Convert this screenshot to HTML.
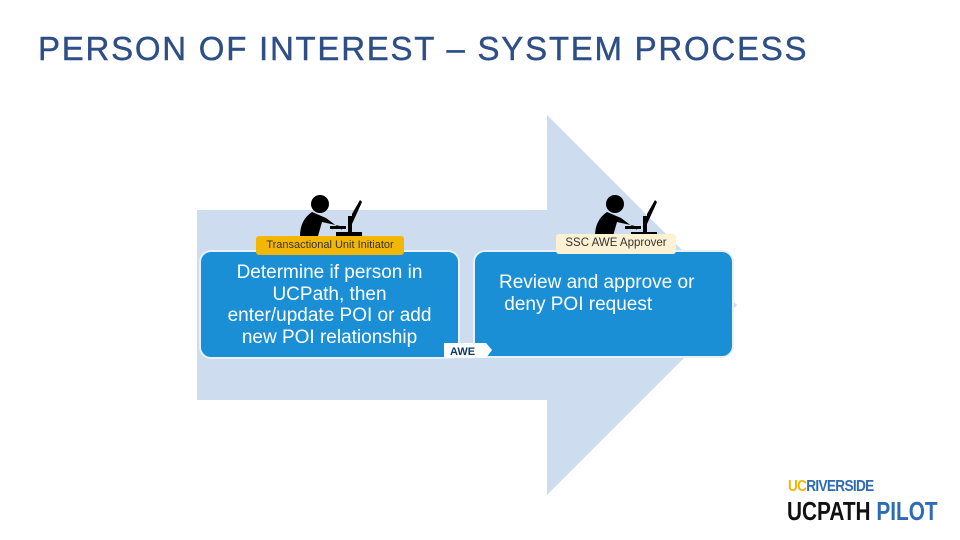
<!DOCTYPE html>
<html><head><style>
body{margin:0;width:960px;height:540px;background:#fff;position:relative;overflow:hidden;font-family:"Liberation Sans",sans-serif}
.t{position:absolute;left:38px;top:30px;font-size:33px;color:#2e4e86;letter-spacing:1.75px;white-space:nowrap;-webkit-text-stroke:0.4px #2e4e86}
.box{position:absolute;background:#1a8fd6;border:2px solid #e8f0f8;border-radius:12px;color:#fff;font-size:19px;line-height:21.5px;box-sizing:border-box}
.lab{position:absolute;font-size:11.5px;border-radius:3px;box-sizing:border-box;padding-top:3px;text-align:center;white-space:nowrap}
</style></head><body>
<div class="t">PERSON OF INTEREST – SYSTEM PROCESS</div>
<svg width="960" height="540" style="position:absolute;left:0;top:0">
<polygon points="197,210 547,210 547,115 737,305 547,495 547,400 197,400" fill="#cddcee"/>
<g id="p1" fill="#000">
<circle cx="320" cy="204" r="9"/>
<path d="M312,212 Q300,220 300,236 L318,236 L322,222 L340,226 L342,230 L326,218 Z"/>
<path d="M352,214 L360,200 L362,202 L352,224 Z" />
<rect x="348" y="216" width="4" height="18"/>
<rect x="336" y="232" width="26" height="4"/>
<rect x="330" y="226" width="16" height="3"/>
</g>
<use href="#p1" x="295" y="0"/>
</svg>
<div class="box" style="left:199px;top:250px;width:261px;height:109px;text-align:center;padding:10px 16px 0">Determine if person in UCPath, then enter/update POI or add new POI relationship</div>
<div class="box" style="left:473px;top:250px;width:261px;height:108px;padding:20px 0 0 24px">Review and approve or<br>&nbsp;deny POI request</div>
<svg width="60" height="20" style="position:absolute;left:440px;top:341px">
<polygon points="4,2 46,2 52,9 46,17 4,17" fill="#fff"/>
<text x="10" y="14" font-size="11" font-weight="bold" fill="#0b3a6a" font-family="Liberation Sans">AWE</text>
</svg>
<div class="lab" style="left:256px;top:236px;width:148px;height:19px;background:#f2b705;color:#333;font-size:11px">Transactional Unit Initiator</div>
<div class="lab" style="left:556px;top:234px;width:120px;height:20px;background:#fcf1d2;color:#333">SSC AWE Approver</div>
<div style="position:absolute;left:788px;top:478px;font-size:16px;font-weight:bold;color:#2d6cb5;letter-spacing:-0.8px;white-space:nowrap;transform:scaleX(0.85);transform-origin:left"><span style="color:#f2b705">UC</span>RIVERSIDE</div>
<div style="position:absolute;left:787px;top:496px;font-size:26px;font-weight:bold;white-space:nowrap;transform:scaleX(0.8);transform-origin:left"><span style="color:#111">UCPATH</span> <span style="color:#2d6cb5">PILOT</span></div>
</body></html>
